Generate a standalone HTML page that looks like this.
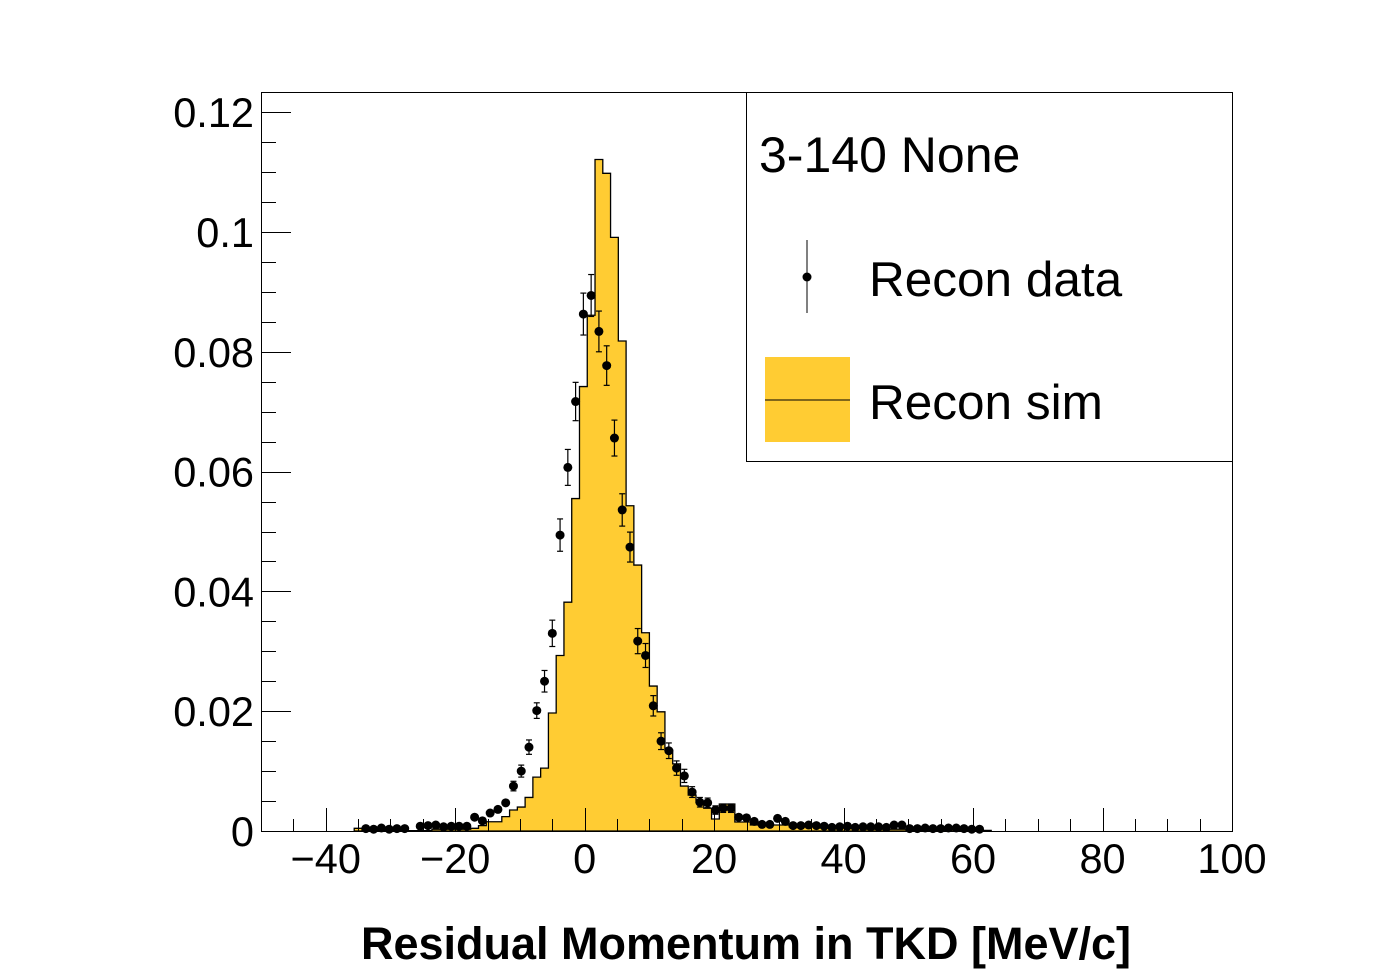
<!DOCTYPE html>
<html><head><meta charset="utf-8"><style>
html,body{margin:0;padding:0;background:#fff;}
svg{display:block;font-family:"Liberation Sans",sans-serif;}
</style></head><body>
<svg id="chart" width="1396" height="972" viewBox="0 0 1396 972">
<g id="sim"></g>
<g id="data"></g>
<g id="axes"></g>
<g id="legend">
<rect x="746.5" y="92.5" width="486" height="369" fill="#fff" stroke="#000" stroke-width="1"/>
<text x="759" y="172" font-size="50">3-140 None</text>
<g>
<line x1="807" y1="240" x2="807" y2="313" stroke="#000" stroke-width="1"/>
<circle cx="807" cy="277" r="4.5" fill="#000"/>
<text x="869" y="296" font-size="49.5">Recon data</text>
</g>
<g>
<rect x="765" y="357" width="85" height="85" fill="#ffcc33"/>
<line x1="765" y1="400" x2="850" y2="400" stroke="#000" stroke-width="1"/>
<text x="869" y="419" font-size="49.5">Recon sim</text>
</g>
</g>
<text x="746" y="959" font-size="45" font-weight="bold" text-anchor="middle">Residual Momentum in TKD [MeV/c]</text>
</svg>
<script>
// histogram binning: 125 bins of 1.2 from -50; arrays start at bin index 12
const binStart = 12;
const binWidth = 1.2;
const binLo = -50;
const simValues = [0.00045,0.00005,0.00005,0.00005,0.00005,0.00005,0.00005,0.00005,0.00005,0.00005,0.0003,0.0003,0.0003,0.0003,0.0003,0.00045,0.0009,0.00155,0.00155,0.0024,0.0035,0.004,0.0056,0.009,0.0105,0.0197,0.0293,0.0382,0.0555,0.0742,0.0861,0.1121,0.1098,0.0991,0.0818,0.0543,0.0444,0.0331,0.0242,0.0199,0.0135,0.0112,0.0075,0.006,0.0048,0.0038,0.002,0.0045,0.0045,0.0015,0.0015,0.001,0.001,0.001,0.001,0.001,0.0007,0.0007,0.0007,0.0007,0.0005,0.0005,0.0005,0.0005,0.0005,0.0005,0.0003,0.0003,0.0003,0.0003,0.0003,0.0003,0.0003,0.0003,0.0003,0.0003,0.0003,0.0003,0.0001,0.0001,0.0001,0.0001];
const dataStart = 13;
const dataValues = [0.0004,0.0003,0.0005,0.0003,0.0004,0.0004,null,0.0008,0.0009,0.001,0.0007,0.0008,0.0008,0.0008,0.0023,0.0017,0.003,0.0036,0.0047,0.0075,0.01,0.014,0.0201,0.025,0.033,0.0494,0.0607,0.0717,0.0863,0.0894,0.0834,0.0777,0.0656,0.0536,0.0474,0.0317,0.0293,0.0209,0.015,0.0134,0.0105,0.0092,0.0065,0.0048,0.0047,0.0035,0.0038,0.0038,0.0023,0.0022,0.0016,0.0011,0.0011,0.0021,0.0016,0.0009,0.0009,0.001,0.0009,0.0008,0.0006,0.0007,0.0008,0.0006,0.0007,0.0007,0.0007,0.0006,0.001,0.001,0.0004,0.0004,0.0005,0.0004,0.0004,0.0005,0.0005,0.0004,0.0003,0.0003];
const dataErrors = [0.0002,0.0002,0.0002,0.0002,0.0002,0.0002,null,0.0003,0.0003,0.0003,0.0003,0.0003,0.0003,0.0003,0.0004,0.0004,0.0005,0.0005,0.0006,0.0008,0.001,0.0012,0.0013,0.0018,0.0022,0.0027,0.003,0.0032,0.0035,0.0035,0.0034,0.0033,0.003,0.0027,0.0025,0.0021,0.002,0.0017,0.0014,0.0013,0.0012,0.0011,0.0009,0.0008,0.0008,0.0007,0.0007,0.0007,0.0005,0.0005,0.0004,0.0004,0.0004,0.0005,0.0004,0.0003,0.0003,0.0003,0.0003,0.0003,0.0003,0.0003,0.0003,0.0003,0.0003,0.0003,0.0003,0.0003,0.0003,0.0003,0.0002,0.0002,0.0002,0.0002,0.0002,0.0002,0.0002,0.0002,0.0002,0.0002];
const xTicks = [-40,-20,0,20,40,60,80,100];
const xTickLabels = ["\u221240","\u221220","0","20","40","60","80","100"];
const yTicks = [0,0.02,0.04,0.06,0.08,0.1,0.12];
const yTickLabels = ["0","0.02","0.04","0.06","0.08","0.1","0.12"];

const X0=261, X1=1232, Y0=831, Y1=92;
const xMin=-50, xMax=100, yMin=0, yMax=(Y0-Y1)/5990;
function sx(v){return X0+(v-xMin)/(xMax-xMin)*(X1-X0);}
function sy(v){return Y0-(v-yMin)/(yMax-yMin)*(Y0-Y1);}
const NS="http://www.w3.org/2000/svg";
function mk(tag,attrs,parent){const e=document.createElementNS(NS,tag);for(const k in attrs)e.setAttribute(k,attrs[k]);parent.appendChild(e);return e;}

const gs=document.getElementById('sim');
let d="M"+sx(binLo+binStart*binWidth)+","+sy(0);
simValues.forEach((v,i)=>{const a=sx(binLo+(binStart+i)*binWidth),b=sx(binLo+(binStart+i+1)*binWidth);d+=" L"+a+","+sy(v)+" L"+b+","+sy(v);});
d+=" L"+sx(binLo+(binStart+simValues.length)*binWidth)+","+sy(0)+" Z";
const simPath=mk('path',{d:d,fill:'#ffcc33',stroke:'#000','stroke-width':1.3},gs);



const gd=document.getElementById('data');
dataValues.forEach((v,i)=>{
  if(v===null)return;
  const cx=sx(binLo+(dataStart+i+0.5)*binWidth), e=dataErrors[i];
  const g=mk('g',{},gd);
  
  
  const t=sy(v+e), b=sy(v-e);
  if(b-t>8){
    mk('line',{x1:cx,y1:t,x2:cx,y2:b,stroke:'#000','stroke-width':1.2},g);
    mk('line',{x1:cx-3,y1:t,x2:cx+3,y2:t,stroke:'#000','stroke-width':1.2},g);
    mk('line',{x1:cx-3,y1:b,x2:cx+3,y2:b,stroke:'#000','stroke-width':1.2},g);
  }
  mk('circle',{cx:cx,cy:sy(v),r:4.5,fill:'#000'},g);
});

const ga=document.getElementById('axes');
const frame=mk('rect',{x:X0+0.5,y:Y1+0.5,width:X1-X0,height:Y0-Y1,fill:'none',stroke:'#000','stroke-width':1},ga);


for(let v=0;v<=0.1201;v+=0.005){
  const y=Math.round(sy(v))+0.5, major=Math.abs(v/0.02-Math.round(v/0.02))<1e-6;
  const t=mk('line',{x1:X0,y1:y,x2:X0+(major?30:15),y2:y,stroke:'#000','stroke-width':1},ga);
  
  
}
for(let v=-50;v<=100;v+=5){
  const x=Math.round(sx(v))+0.5, major=v%20===0;
  const t=mk('line',{x1:x,y1:Y0,x2:x,y2:Y0-(major?23:12),stroke:'#000','stroke-width':1},ga);
  
  
}
yTicks.forEach((v,i)=>{
  const t=mk('text',{x:254,y:sy(v)+15,'font-size':41.5,'text-anchor':'end'},ga);
  t.textContent=yTickLabels[i];
  
  
});
xTicks.forEach((v,i)=>{
  const t=mk('text',{x:sx(v),y:873,'font-size':41.5,'text-anchor':'middle'},ga);
  t.textContent=xTickLabels[i];
  
  
});
</script>
</body></html>
